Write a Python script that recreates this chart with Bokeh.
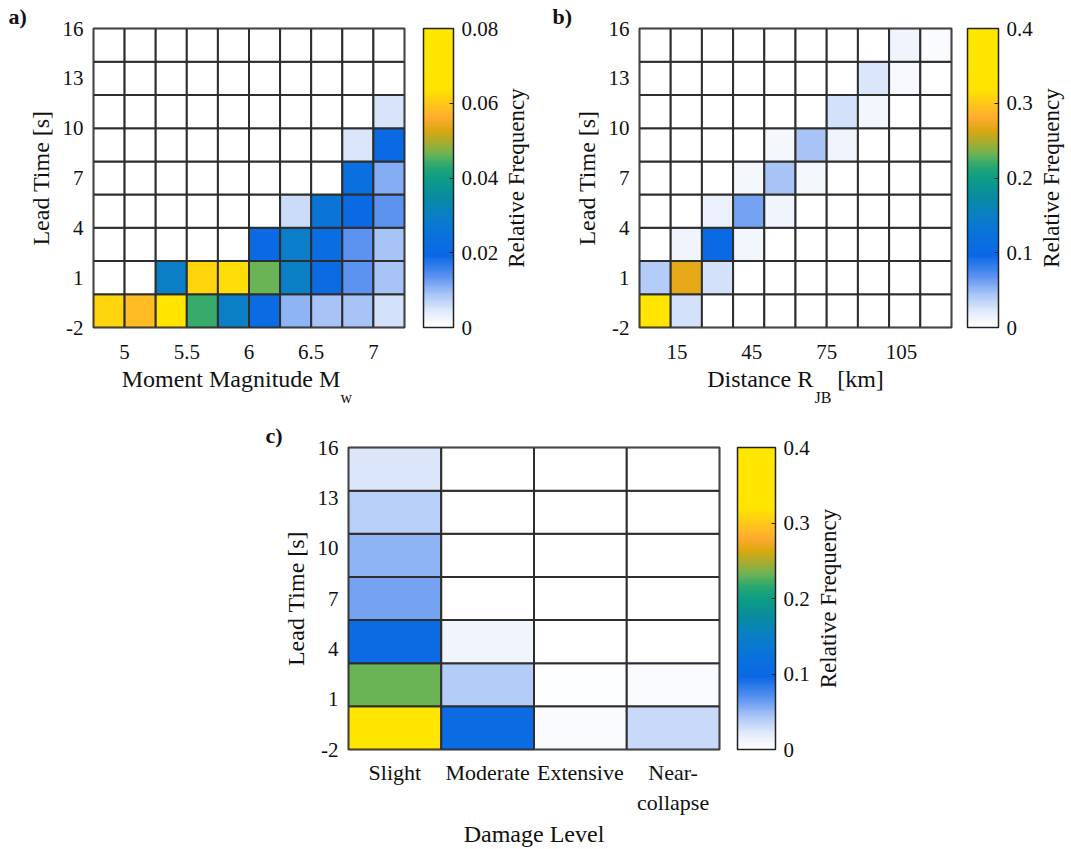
import math
import numpy as np
from bokeh.plotting import figure
from bokeh.models import (LinearColorMapper, ColorBar, FixedTicker, Title, LinearAxis,
                          ColumnDataSource, Spacer)
from bokeh.layouts import row, column
from bokeh.embed import file_html
from bokeh.resources import INLINE

FONT = "Liberation Serif"
NB = "\u00a0"

# ---------------- data ----------------
# Panel a: magnitude bins x lead-time bins (rows from bottom -2..0 up to 14..16)
mw_edges = [4.75, 5.0, 5.25, 5.5, 5.75, 6.0, 6.25, 6.5, 6.75, 7.0, 7.25]
lead_edges_ab = [-2, 0, 2, 4, 6, 8, 10, 12, 14, 16]
freq_a = [
    [0.0616, 0.0584, 0.068, 0.044, 0.030, 0.021, 0.0104, 0.0088, 0.0088, 0.0056],
    [0.0, 0.0, 0.030, 0.0616, 0.063, 0.0464, 0.030, 0.021, 0.0136, 0.0088],
    [0.0, 0.0, 0.0, 0.0, 0.0, 0.020, 0.0296, 0.022, 0.0136, 0.009],
    [0.0, 0.0, 0.0, 0.0, 0.0, 0.0, 0.006, 0.026, 0.020, 0.0136],
    [0.0, 0.0, 0.0, 0.0, 0.0, 0.0, 0.0, 0.0, 0.023, 0.0112],
    [0.0, 0.0, 0.0, 0.0, 0.0, 0.0, 0.0, 0.0, 0.0048, 0.020],
    [0.0, 0.0, 0.0, 0.0, 0.0, 0.0, 0.0, 0.0, 0.0, 0.005],
    [0.0, 0.0, 0.0, 0.0, 0.0, 0.0, 0.0, 0.0, 0.0, 0.0],
    [0.0, 0.0, 0.0, 0.0, 0.0, 0.0, 0.0, 0.0, 0.0, 0.0],
]
mw_ticks = [5, 5.5, 6, 6.5, 7]
cbar_a_ticks = [0, 0.02, 0.04, 0.06, 0.08]

# Panel b: distance bins (km)
dist_edges = [0, 12.5, 25, 37.5, 50, 62.5, 75, 87.5, 100, 112.5, 125]
freq_b = [
    [0.37, 0.028, 0.0, 0.0, 0.0, 0.0, 0.0, 0.0, 0.0, 0.0],
    [0.04, 0.268, 0.028, 0.0, 0.0, 0.0, 0.0, 0.0, 0.0, 0.0],
    [0.0, 0.012, 0.10, 0.01, 0.0, 0.0, 0.0, 0.0, 0.0, 0.0],
    [0.0, 0.0, 0.016, 0.06, 0.012, 0.0, 0.0, 0.0, 0.0, 0.0],
    [0.0, 0.0, 0.0, 0.008, 0.044, 0.008, 0.0, 0.0, 0.0, 0.0],
    [0.0, 0.0, 0.0, 0.0, 0.008, 0.044, 0.012, 0.0, 0.0, 0.0],
    [0.0, 0.0, 0.0, 0.0, 0.0, 0.0, 0.028, 0.01, 0.0, 0.0],
    [0.0, 0.0, 0.0, 0.0, 0.0, 0.0, 0.0, 0.024, 0.007, 0.0],
    [0.0, 0.0, 0.0, 0.0, 0.0, 0.0, 0.0, 0.0, 0.012, 0.006],
]
dist_ticks = [15, 45, 75, 105]
cbar_bc_ticks = [0, 0.1, 0.2, 0.3, 0.4]

# Panel c: damage levels, 7 lead-time bins between -2 and 16
damage_levels = ["Slight", "Moderate", "Extensive", "Near-\ncollapse"]
lead_edges_c = [-2, 0.571, 3.143, 5.714, 8.286, 10.857, 13.429, 16]
freq_c = [  # rows bottom -> top, columns = damage levels
    [0.36, 0.104, 0.006, 0.032],
    [0.232, 0.04, 0.003, 0.006],
    [0.104, 0.012, 0.0, 0.0],
    [0.06, 0.0, 0.0, 0.0],
    [0.052, 0.0, 0.0, 0.0],
    [0.038, 0.0, 0.0, 0.0],
    [0.024, 0.0, 0.0, 0.0],
]
lead_ticks = [-2, 1, 4, 7, 10, 13, 16]
cbar_title = "Relative Frequency"

# ---------------- colormap ----------------
anchors = [
    (0.00, "#FFFFFF"), (0.05, "#E4ECFB"), (0.11, "#A8C4F7"), (0.17, "#5A92F0"),
    (0.24, "#0A68E6"), (0.31, "#0A72DC"), (0.38, "#0A80C4"), (0.44, "#088C9E"),
    (0.50, "#0E9E84"), (0.54, "#28A870"), (0.58, "#6AB455"), (0.62, "#A8AC30"),
    (0.66, "#DCA810"), (0.70, "#FFAA30"), (0.75, "#FFC81A"), (0.80, "#FFE400"),
    (1.00, "#FFE600"),
]


def hex2rgb(h):
    return [int(h[i:i + 2], 16) for i in (1, 3, 5)]


def build_palette(n=256):
    ts = np.array([a[0] for a in anchors])
    cs = np.array([hex2rgb(a[1]) for a in anchors], dtype=float)
    out = []
    for t in np.linspace(0, 1, n):
        r = np.interp(t, ts, cs[:, 0]); g = np.interp(t, ts, cs[:, 1]); b = np.interp(t, ts, cs[:, 2])
        out.append("#%02x%02x%02x" % (int(round(r)), int(round(g)), int(round(b))))
    return out


PALETTE = build_palette()
GRID = "#2e2e2e"
TXT = "#111111"
CB_TITLE_PX = 23
CB_TITLE_LEN = 7.804 * CB_TITLE_PX  # approximate rendered length of the title


def cells(xedges, yedges, matrix):
    d = dict(left=[], right=[], bottom=[], top=[], v=[])
    for j, rowvals in enumerate(matrix):
        for i, val in enumerate(rowvals):
            d["left"].append(xedges[i]); d["right"].append(xedges[i + 1])
            d["bottom"].append(yedges[j]); d["top"].append(yedges[j + 1])
            d["v"].append(val)
    return ColumnDataSource(d)


def fmt(v):
    return ("%g" % v)


def make_panel(xedges, yedges, matrix, vmax, cticks, yticks, xticks, xlabels,
               frame_w, frame_h, bl, br, bt, bb, cb_w, cb_gap, cb_lab_w, title_center,
               tick_size="21px", xtick_standoff=11):
    p = figure(frame_width=frame_w, frame_height=frame_h,
               x_range=(xedges[0], xedges[-1]), y_range=(yedges[0], yedges[-1]),
               output_backend="svg", toolbar_location=None,
               min_border_left=bl, min_border_right=br, min_border_top=bt, min_border_bottom=bb)
    mapper = LinearColorMapper(palette=PALETTE, low=0, high=vmax)
    p.quad(left="left", right="right", bottom="bottom", top="top",
           source=cells(xedges, yedges, matrix),
           fill_color={"field": "v", "transform": mapper},
           line_color=GRID, line_width=2)
    p.grid.visible = False
    p.outline_line_color = GRID
    p.outline_line_width = 2
    for ax in (p.xaxis[0], p.yaxis[0]):
        ax.axis_line_color = None
        ax.major_tick_line_color = None
        ax.minor_tick_line_color = None
        ax.major_label_text_font = FONT
        ax.major_label_text_font_size = tick_size
        ax.major_label_text_color = TXT
        ax.axis_label_text_font = FONT
        ax.axis_label_text_font_size = "24px"
        ax.axis_label_text_font_style = "normal"
        ax.axis_label_text_color = TXT
    p.yaxis.ticker = FixedTicker(ticks=yticks)
    p.yaxis.major_label_text_font_size = "21px"
    p.yaxis.major_label_overrides = {t: fmt(t) for t in yticks}
    p.yaxis.axis_label = "Lead Time [s]"
    p.yaxis.major_label_standoff = 4
    p.yaxis.axis_label_standoff = 6
    p.xaxis.ticker = FixedTicker(ticks=xticks)
    p.xaxis.major_label_overrides = dict(zip(xticks, xlabels))
    p.xaxis.major_label_standoff = xtick_standoff
    p.xaxis.axis_label_standoff = 4

    cb = ColorBar(color_mapper=mapper, ticker=FixedTicker(ticks=cticks),
                  major_label_overrides={t: fmt(t) for t in cticks},
                  width=cb_w, height=frame_h, padding=0, margin=0, location=(cb_gap, 0),
                  bar_line_color="#222222", bar_line_width=1.5,
                  major_tick_line_color="#222222", major_tick_in=4, major_tick_out=0,
                  minor_tick_line_color=None, label_standoff=8,
                  major_label_text_font=FONT, major_label_text_font_size="21px",
                  major_label_text_color=TXT, background_fill_color=None)
    p.add_layout(cb, "right")

    # right-hand axis that carries only the colour-bar title, written bottom-to-top
    panel_w = cb_w + 8 + cb_lab_w
    y0, y1 = yedges[0], yedges[-1]
    start = (y0 + y1) / 2 - (CB_TITLE_LEN / 2) * (y1 - y0) / frame_h
    rax = LinearAxis(ticker=FixedTicker(ticks=[start]),
                     major_label_overrides={start: cbar_title},
                     major_label_orientation=math.pi / 2,
                     axis_line_color=None, major_tick_line_color=None, minor_tick_line_color=None,
                     major_tick_in=0, major_tick_out=0,
                     major_label_text_font=FONT, major_label_text_font_size="%dpx" % CB_TITLE_PX,
                     major_label_text_color=TXT,
                     major_label_standoff=max(0, int(title_center - panel_w - 5)))
    p.add_layout(rax, "right")
    return p


def panel_title(p, text, offset):
    p.add_layout(Title(text=text, align="left", offset=offset, text_font=FONT,
                       text_font_size="22px", text_font_style="bold", text_color=TXT,
                       standoff=0), "above")


def sub_title(p, text, offset):
    p.add_layout(Title(text=text, align="left", offset=offset, text_font=FONT,
                       text_font_size="16px", text_font_style="normal", text_color=TXT,
                       standoff=-16), "below")


# panel a
pa = make_panel(mw_edges, lead_edges_ab, freq_a, 0.08, cbar_a_ticks, lead_ticks,
                mw_ticks, [fmt(t) for t in mw_ticks], 311, 299, 93, 141, 28, 80,
                30, 19, 37, 518 - 404 - 19)
pa.xaxis.axis_label = "Moment Magnitude M" + NB * 6
panel_title(pa, "a)", -85)
sub_title(pa, "w", 247)

# panel b
pb = make_panel(dist_edges, lead_edges_ab, freq_b, 0.4, cbar_bc_ticks, lead_ticks,
                dist_ticks, [fmt(t) for t in dist_ticks], 312, 299, 94, 120, 28, 80,
                31, 16, 26, 1053 - 951 - 16)
pb.xaxis.axis_label = "Distance R" + NB * 4 + "[km]"
panel_title(pb, "b)", -87)
sub_title(pb, "JB", 175)

# panel c
cx_edges = list(range(len(damage_levels) + 1))
cx_ticks = [i + 0.5 for i in range(len(damage_levels))]
pc = make_panel(cx_edges, lead_edges_c, freq_c, 0.4, cbar_bc_ticks, lead_ticks,
                cx_ticks, damage_levels, 371, 302, 93, 140, 40, 100,
                38, 18, 26, 830 - 719 - 18, tick_size="22px", xtick_standoff=4)
pc.xaxis.axis_label = "Damage Level"
pc.xaxis.axis_label_standoff = 3
panel_title(pc, "c)", -83)

layout = column(row(pa, pb), row(Spacer(width=255, height=10), pc))

open("out.html", "w").write(file_html(layout, INLINE))
